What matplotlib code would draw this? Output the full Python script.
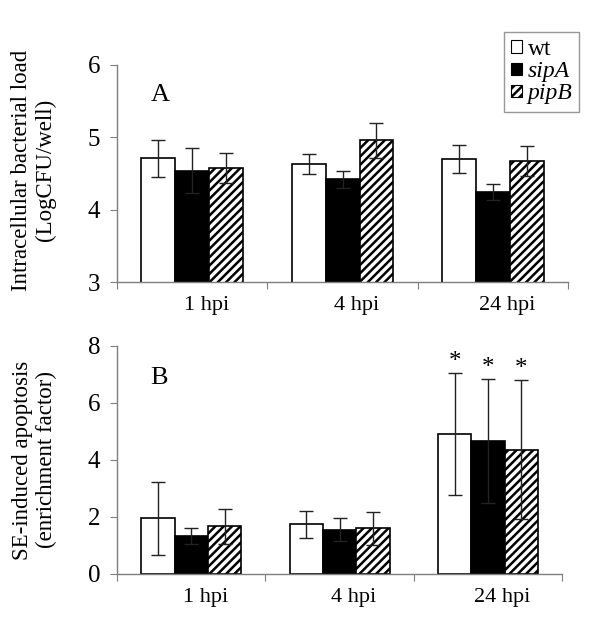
import matplotlib
matplotlib.use('Agg')
import matplotlib.pyplot as plt
import matplotlib.transforms as mtransforms
from matplotlib.patches import Patch
import numpy as np

plt.rcParams['font.family'] = ['Liberation Serif', 'DejaVu Serif']
plt.rcParams['hatch.linewidth'] = 1.8

times = ['1 hpi', '4 hpi', '24 hpi']
strains = ['wt', 'sipA', 'pipB']

# panel A: intracellular load (log CFU/well)
load_mean = {'wt':   [4.71, 4.63, 4.70],
             'sipA': [4.54, 4.42, 4.24],
             'pipB': [4.58, 4.96, 4.67]}
load_err = {'wt':   [0.26, 0.14, 0.19],
            'sipA': [0.31, 0.12, 0.11],
            'pipB': [0.21, 0.24, 0.21]}

# panel B: apoptosis enrichment factor
apo_mean = {'wt':   [1.96, 1.75, 4.91],
            'sipA': [1.34, 1.55, 4.66],
            'pipB': [1.67, 1.60, 4.36]}
apo_err = {'wt':   [1.28, 0.47, 2.14],
           'sipA': [0.28, 0.40, 2.17],
           'pipB': [0.62, 0.57, 2.43]}
apo_star = {'wt': [False, False, True],
            'sipA': [False, False, True],
            'pipB': [False, False, True]}

styles = {'wt':   dict(color='white', hatch=None),
          'sipA': dict(color='black', hatch=None),
          'pipB': dict(color='white', hatch='////')}

axis_grey = '#7f7f7f'


def draw_panel(ax, means, errs, ylim, yticks, letter, ylabel, label_y, stars=None):
    width = 0.225
    x = np.arange(len(times)) + 0.5
    for k, s in enumerate(strains):
        pos = x + (k - 1) * width
        ax.bar(pos, means[s], width, color=styles[s]['color'], hatch=styles[s]['hatch'],
               edgecolor='black', linewidth=1.2, zorder=2)
        ax.errorbar(pos, means[s], yerr=errs[s], fmt='none', ecolor='#222222',
                    elinewidth=1.0, capsize=5, capthick=1.0, zorder=3)
        if stars is not None:
            for p, m, e, st in zip(pos, means[s], errs[s], stars[s]):
                if st:
                    ax.text(p, m + e, '*', ha='center', va='bottom', fontsize=18)
    ax.set_xlim(0, len(times))
    ax.set_ylim(*ylim)
    ax.set_yticks(yticks)
    ax.set_xticks(np.arange(len(times) + 1))
    ax.set_xticklabels([])
    ax.set_xticks(x, minor=True)
    ax.set_xticklabels(times, minor=True)
    ax.tick_params(axis='x', which='minor', length=0, pad=10, labelsize=16)
    ax.tick_params(axis='x', which='major', length=5, color=axis_grey, direction='out')
    ax.tick_params(axis='y', length=5, color=axis_grey, direction='out', labelsize=18, pad=7)
    offset = mtransforms.ScaledTranslation(0.14, 0, ax.figure.dpi_scale_trans)
    for lab in ax.xaxis.get_minorticklabels():
        lab.set_transform(lab.get_transform() + offset)
    for side in ['top', 'right']:
        ax.spines[side].set_visible(False)
    for side in ['left', 'bottom']:
        ax.spines[side].set_color(axis_grey)
        ax.spines[side].set_linewidth(1.0)
    ax.text(0.075, 0.86, letter, transform=ax.transAxes, fontsize=19, ha='left', va='center')
    ax.set_ylabel(ylabel, fontsize=16.5, linespacing=1.2)
    ax.yaxis.set_label_coords(-0.135, label_y)


fig = plt.figure(figsize=(6.0, 6.19), dpi=100)
axA = fig.add_axes([0.195, 0.5444, 0.752, 0.3506])
axB = fig.add_axes([0.195, 0.0727, 0.742, 0.3684])

draw_panel(axA, load_mean, load_err, (3, 6), [3, 4, 5, 6], 'A',
           'Intracellular bacterial load\n(LogCFU/well)', 0.515)
draw_panel(axB, apo_mean, apo_err, (0, 8), [0, 2, 4, 6, 8], 'B',
           'SE-induced apoptosis\n(enrichment factor)', 0.50, stars=apo_star)

handles = [Patch(facecolor=styles[s]['color'], hatch=styles[s]['hatch'],
                 edgecolor='black', linewidth=0.8) for s in strains]
leg = fig.legend(handles, strains,
                 loc='upper left', bbox_to_anchor=(504 / 600, 1 - 32 / 619),
                 fontsize=17, frameon=True, fancybox=False, edgecolor=axis_grey,
                 handlelength=0.45, handleheight=0.45, handletextpad=0.25,
                 borderpad=0.3, labelspacing=0.05, borderaxespad=0)
leg.get_frame().set_linewidth(1.0)
for t in leg.get_texts()[1:]:
    t.set_fontstyle('italic')

fig.savefig('out.png', dpi=100)
